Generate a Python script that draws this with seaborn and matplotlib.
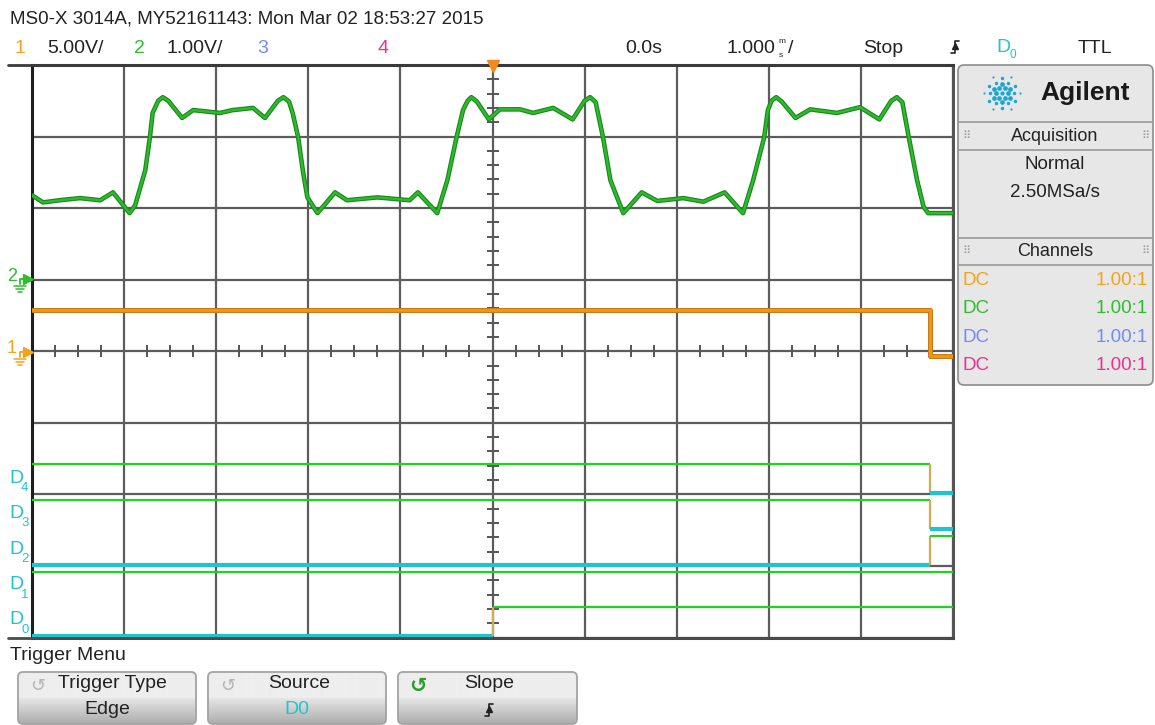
import matplotlib
matplotlib.use("Agg")
import matplotlib.pyplot as plt
import matplotlib.patheffects as pe
from matplotlib.patches import FancyBboxPatch
import numpy as np
import pandas as pd
import seaborn as sns

# --- values ---------------------------------------------------------------
# channel 2 (green), time in ms, volts (1 V/div, ground one division up)
ch2_t = [-5.00, -4.88, -4.70, -4.48, -4.26, -4.12, -3.94, -3.88, -3.77, -3.72,
         -3.69, -3.63, -3.58, -3.52, -3.37, -3.25, -2.96, -2.82, -2.60, -2.47,
         -2.33, -2.27, -2.21, -2.17, -2.11, -2.06, -2.01, -1.90,
         -1.71, -1.58, -1.25, -0.90, -0.81, -0.60, -0.49, -0.39, -0.32, -0.27,
         -0.23, -0.17, -0.04, 0.08, 0.30, 0.44, 0.66, 0.87, 1.00, 1.06, 1.12,
         1.20, 1.28, 1.42,
         1.62, 1.79, 2.07, 2.29, 2.52, 2.72, 2.83, 2.95, 2.99, 3.03, 3.08, 3.14,
         3.29, 3.45, 3.74, 3.99, 4.20, 4.33, 4.39, 4.45, 4.52, 4.61, 4.68, 4.73,
         5.00]
ch2_v = [1.18, 1.08, 1.11, 1.14, 1.11, 1.22, 0.93, 1.04, 1.53, 1.99,
         2.33, 2.50, 2.55, 2.50, 2.26, 2.37, 2.33, 2.37, 2.40, 2.26,
         2.50, 2.55, 2.49, 2.33, 1.99, 1.53, 1.15, 0.93,
         1.22, 1.11, 1.15, 1.11, 1.22, 0.93, 1.39, 1.99, 2.37, 2.50,
         2.55, 2.49, 2.24, 2.38, 2.38, 2.33, 2.40, 2.24, 2.50, 2.55, 2.48,
         1.99, 1.39, 0.93,
         1.22, 1.10, 1.14, 1.09, 1.22, 0.93, 1.39, 1.99, 2.37, 2.50, 2.55, 2.49,
         2.26, 2.38, 2.33, 2.41, 2.24, 2.50, 2.55, 2.48, 1.99, 1.39, 1.02, 0.93,
         0.93]

# channel 1 (orange), 5 V/div, ground at centre
ch1_t = [-5.0, 4.75, 4.75, 5.0]
ch1_v = [2.9, 2.9, -0.35, -0.35]

# digital channels D0..D4: starting level and time of the one change (ms)
dig_labels = ["0", "1", "2", "3", "4"]
dig_start = [0, 1, 0, 1, 1]
dig_change = [0.0, None, 4.75, 4.75, 4.75]

ch_colors = {"1": "#f7a21b", "2": "#2dbd2d", "3": "#6f8cff", "4": "#f0308c"}
cyan = "#22c3cf"

# --- figure ---------------------------------------------------------------
sns.set_style("white")
plt.rcParams["font.family"] = ["Liberation Sans", "DejaVu Sans"]

fig = plt.figure(figsize=(11.55, 7.25), dpi=100)
W, H = 1155, 725
left, right, top, bottom = 32, 953, 65, 637.5
ax = fig.add_axes([left / W, 1 - bottom / H, (right - left) / W, (bottom - top) / H])
ax.set_xlim(-5, 5)
ax.set_ylim(-4, 4)
ax.set_xticks(range(-5, 6))
ax.set_yticks(range(-4, 5))
ax.tick_params(length=0, labelbottom=False, labelleft=False)
ax.grid(True, color="#5c5c5c", lw=1.6)
for side, c in [("left", "#1e1e1e"), ("top", "#3a3a3a"), ("right", "#555555"), ("bottom", "#4a4a4a")]:
    ax.spines[side].set_color(c)
    ax.spines[side].set_linewidth(2.2)

# centre graticule ticks
xt = [x for x in np.arange(-5, 5.001, 0.25) if abs(x - round(x)) > 1e-6]
yt = [y for y in np.arange(-4, 4.001, 0.2) if abs(y - round(y)) > 1e-6]
ax.plot(xt, np.zeros(len(xt)), ls="none", marker="|", ms=8, mew=1.4, color="#555555")
ax.plot(np.zeros(len(yt)), yt, ls="none", marker="_", ms=9, mew=1.4, color="#555555")

# analog traces
df2 = pd.DataFrame({"t": ch2_t, "div": np.array(ch2_v) / 1.0 + 1.0})
sns.lineplot(data=df2, x="t", y="div", ax=ax, estimator=None, sort=False,
             color="#2cbb2c", lw=1.7, zorder=5,
             path_effects=[pe.Stroke(linewidth=3.3, foreground="#1c861c"), pe.Normal()])
df1 = pd.DataFrame({"t": ch1_t, "div": np.array(ch1_v) / 5.0})
sns.lineplot(data=df1, x="t", y="div", ax=ax, estimator=None, sort=False,
             color="#f7960c", lw=2.1, zorder=4,
             path_effects=[pe.Stroke(linewidth=3.6, foreground="#c47c1c"), pe.Normal()])

# digital traces
for i, (start, tc) in enumerate(zip(dig_start, dig_change)):
    base = -3.98 + 0.5 * i
    lvl = {0: base, 1: base + 0.4}
    col = {0: cyan, 1: "#1ed41e"}
    lw = {0: 3.0, 1: 1.6}
    if tc is None:
        ax.hlines(lvl[start], -5, 5, color=col[start], lw=lw[start], zorder=3)
        continue
    end = 1 - start
    ax.hlines(lvl[start], -5, tc, color=col[start], lw=lw[start], zorder=3)
    ax.vlines(tc, base, base + 0.4, color="#d6aa55", lw=1.6, zorder=3)
    ax.hlines(lvl[end], tc, 5, color=col[end], lw=lw[end], zorder=3)

# --- screen furniture in pixel coordinates ---------------------------------
ov = fig.add_axes([0, 0, 1, 1], zorder=3)
ov.set_xlim(0, W)
ov.set_ylim(H, 0)
ov.axis("off")
ov.patch.set_alpha(0)


def txt(x, y, s, color="#222222", size=14, ha="left", **kw):
    ov.text(x, y, s, color=color, fontsize=size, ha=ha, va="center", **kw)


def edge_glyph(cx, cy, color="#222222"):
    ov.plot([cx - 4, cx, cx, cx + 4], [cy + 6, cy + 6, cy - 6, cy - 6], color=color, lw=1.2)
    ov.plot(cx, cy - 1, marker="^", ms=5, color=color)


ov.plot([8, right], [top, top], color="#3a3a3a", lw=2)
ov.plot([8, right], [bottom, bottom], color="#4a4a4a", lw=2)
ov.plot(492.5, 66, marker="v", ms=9, color="#f5891f")

txt(10, 19, "MS0-X 3014A, MY52161143: Mon Mar 02 18:53:27 2015", size=13.5)
txt(14, 48, "1", ch_colors["1"])
txt(47, 48, "5.00V/")
txt(134, 48, "2", ch_colors["2"])
txt(167, 48, "1.00V/")
txt(257, 48, "3", ch_colors["3"])
txt(377, 48, "4", ch_colors["4"])
txt(625, 48, "0.0s")
txt(726, 48, "1.000")
txt(778, 41, "m", size=6)
txt(779, 55, "s", size=6)
txt(788, 48, "/")
txt(863, 48, "Stop")
edge_glyph(955, 47)
txt(996, 47, "D", cyan)
txt(1010, 55, "0", cyan, size=8.5)
txt(1078, 48, "TTL")

# ground markers of the analog channels
for lab, ypx in [("2", 279), ("1", 351.5)]:
    c = ch_colors[lab]
    txt(7, ypx - 3, lab, c, size=13)
    ov.plot([20, 20, 26], [ypx + 5, ypx, ypx], color=c, lw=1.3)
    ov.plot(28, ypx, marker=">", ms=7, color=c)
    for k, half in enumerate([6, 4, 2]):
        ov.plot([20 - half, 20 + half], [ypx + 7 + 3 * k] * 2, color=c, lw=1.1)

# digital channel labels
for i, lab in enumerate(dig_labels):
    ypx = 623 - 35.5 * i
    txt(9, ypx - 3, "D", cyan, size=14)
    txt(21, ypx + 7, lab, cyan, size=9.5)

# side panel
panel = FancyBboxPatch((958, 65), 195, 320, boxstyle="round,pad=0,rounding_size=6",
                       facecolor="#e7e7e7", edgecolor="#8c8c8c", lw=1.2)
ov.add_patch(panel)
for ypx in [122, 150, 238, 265]:
    ov.plot([958, 1153], [ypx, ypx], color="#9a9a9a", lw=1.2)
for ang in np.arange(0, 360, 30):
    rr = [6, 12, 18] if ang % 60 == 0 else [9, 15]
    for k, r in enumerate(rr):
        ov.plot(1002 + r * np.cos(np.radians(ang)), 93 + r * np.sin(np.radians(ang)),
                marker="o", ms=3.4 - 0.9 * k, color="#1aa6d6", mew=0)
ov.plot(1002, 93, marker="o", ms=3, color="#1aa6d6", mew=0)
txt(1085, 93, "Agilent", "#1a1a1a", size=19, ha="center", fontweight="bold")
for ypx, s in [(136, "Acquisition"), (251, "Channels")]:
    txt(1055, ypx, s, size=13, ha="center")
    txt(966, ypx, "\u283f", "#9a9a9a", size=8, ha="center", family="DejaVu Sans")
    txt(1145, ypx, "\u283f", "#9a9a9a", size=8, ha="center", family="DejaVu Sans")
txt(1055, 164, "Normal", size=13.5, ha="center")
txt(1055, 192, "2.50MSa/s", size=13.5, ha="center")
for k, lab in enumerate(["1", "2", "3", "4"]):
    ypx = 280 + 28.6 * k
    txt(962, ypx, "DC", ch_colors[lab], size=13.5)
    txt(1148, ypx, "1.00:1", ch_colors[lab], size=13.5, ha="right")

# softkey menu
txt(10, 655, "Trigger Menu", size=14)
shade = np.concatenate([np.full(26, 0.93), np.linspace(0.9, 0.68, 26)])[:, None]
buttons = [(18, 196, "Trigger Type", "Edge", "#222222", "#b5b5b5"),
           (208, 386, "Source", "D0", cyan, "#b5b5b5"),
           (398, 577, "Slope", None, "#222222", "#2a9d2a")]
for x0, x1, t1, t2, c2, ic in buttons:
    box = FancyBboxPatch((x0, 672), x1 - x0, 52, boxstyle="round,pad=0,rounding_size=5",
                         facecolor="none", edgecolor="#a3a3a3", lw=1.3, zorder=3)
    ov.add_patch(box)
    im = ov.imshow(shade, cmap="gray", vmin=0, vmax=1, extent=(x0, x1, 724, 672),
                   aspect="auto", origin="upper", zorder=1)
    im.set_clip_path(box)
    bold = ic != "#b5b5b5"
    txt(x0 + 20, 686, "\u21ba", ic, size=15 if bold else 13, ha="center",
        family="DejaVu Sans", fontweight="bold" if bold else "normal", zorder=4)
    txt(x0 + 91 if t1 != "Trigger Type" else x0 + 94, 684, t1, size=14, ha="center", zorder=4)
    if t2 is None:
        edge_glyph((x0 + x1) / 2 + 1, 710)
    else:
        txt((x0 + x1) / 2, 710, t2, c2, size=14, ha="center", zorder=4)
ov.set_xlim(0, W)
ov.set_ylim(H, 0)

fig.savefig("out.png", dpi=100)
